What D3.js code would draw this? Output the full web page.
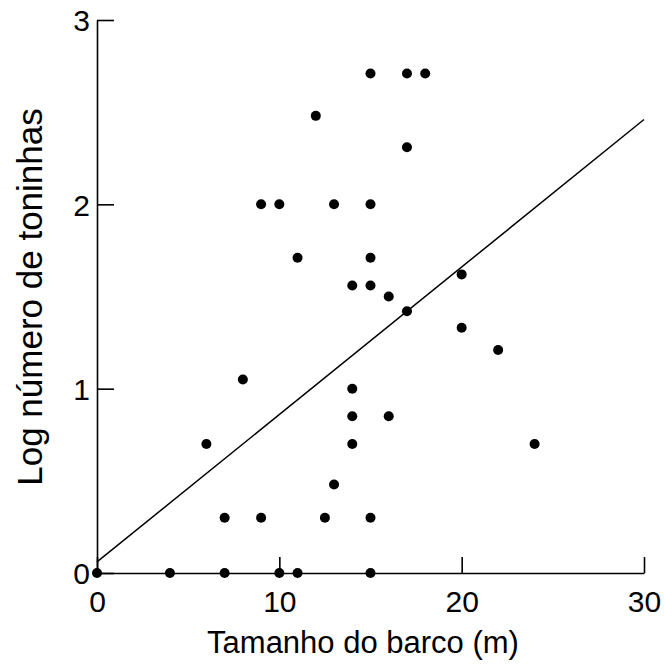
<!DOCTYPE html>
<html>
<head>
<meta charset="utf-8">
<script src="https://cdn.jsdelivr.net/npm/d3@7"></script>
<style>
  body { margin: 0; background: #fff; }
  text { font-family: "Liberation Sans", Arial, sans-serif; fill: #000; }
</style>
</head>
<body>
<div id="scatter"></div>
<script>
// boat length (m) and log number of dolphins
var boatSize = [0, 4, 7, 10, 11, 15, 7, 9, 12.5, 15, 13, 6, 14, 24, 14, 16, 14, 8, 22, 20,
  17, 16, 14, 15, 20, 11, 15, 9, 10, 13, 15, 17, 12, 15, 17, 18];
var logCount = [0, 0, 0, 0, 0, 0, 0.3, 0.3, 0.3, 0.3, 0.48, 0.7, 0.7, 0.7, 0.85, 0.85, 1.0, 1.05, 1.21, 1.33,
  1.42, 1.5, 1.56, 1.56, 1.62, 1.71, 1.71, 2.0, 2.0, 2.0, 2.0, 2.31, 2.48, 2.71, 2.71, 2.71];

// fitted line ends
var fitX = [0, 30];
var fitY = [0.06, 2.46];

var xTicks = [0, 10, 20, 30];
var yTicks = [0, 1, 2, 3];

var svgWidth = 664;
var svgHeight = 665;

var svg = d3.select("#scatter")
  .append("svg")
  .attr("width", svgWidth)
  .attr("height", svgHeight);

var xScale = d3.scaleLinear().domain([0, 30]).range([97, 644]);
var yScale = d3.scaleLinear().domain([0, 3]).range([573, 20]);

// axes, ticks pointing inward
var bottomAxis = d3.axisBottom(xScale)
  .tickValues(xTicks)
  .tickFormat(d3.format("d"))
  .tickSizeInner(-16)
  .tickSizeOuter(0)
  .tickPadding(0);

var leftAxis = d3.axisLeft(yScale)
  .tickValues(yTicks)
  .tickFormat(d3.format("d"))
  .tickSizeInner(-17)
  .tickSizeOuter(0)
  .tickPadding(7);

var gx = svg.append("g")
  .attr("transform", `translate(0, ${yScale(0)})`)
  .call(bottomAxis);

var gy = svg.append("g")
  .attr("transform", `translate(${xScale(0)}, 0)`)
  .call(leftAxis);

[gx, gy].forEach(function(g) {
  g.select(".domain").attr("stroke", "#000").attr("stroke-width", 1.6);
  g.selectAll(".tick line").attr("stroke", "#000").attr("stroke-width", 1.6);
  g.selectAll(".tick text")
    .attr("fill", "#000")
    .style("font-family", '"Liberation Sans", Arial, sans-serif')
    .style("font-size", "30px");
});

gx.selectAll(".tick text").attr("y", 0).attr("dy", "1.3em");
gy.selectAll(".tick text").attr("dy", "0.36em");

// regression line
svg.append("line")
  .attr("x1", xScale(fitX[0]))
  .attr("y1", yScale(fitY[0]))
  .attr("x2", xScale(fitX[1]))
  .attr("y2", yScale(fitY[1]))
  .attr("stroke", "#000")
  .attr("stroke-width", 1.5);

// points
svg.selectAll("circle")
  .data(boatSize)
  .enter()
  .append("circle")
  .attr("cx", d => xScale(d))
  .attr("cy", (d, i) => yScale(logCount[i]))
  .attr("r", 5)
  .attr("fill", "#000");

// axis titles
svg.append("text")
  .attr("x", 363)
  .attr("y", 653)
  .attr("text-anchor", "middle")
  .style("font-size", "31px")
  .text("Tamanho do barco (m)");

svg.append("text")
  .attr("transform", "rotate(-90)")
  .attr("x", -297)
  .attr("y", 42)
  .attr("text-anchor", "middle")
  .style("font-size", "35px")
  .text("Log número de toninhas");
</script>
</body>
</html>
